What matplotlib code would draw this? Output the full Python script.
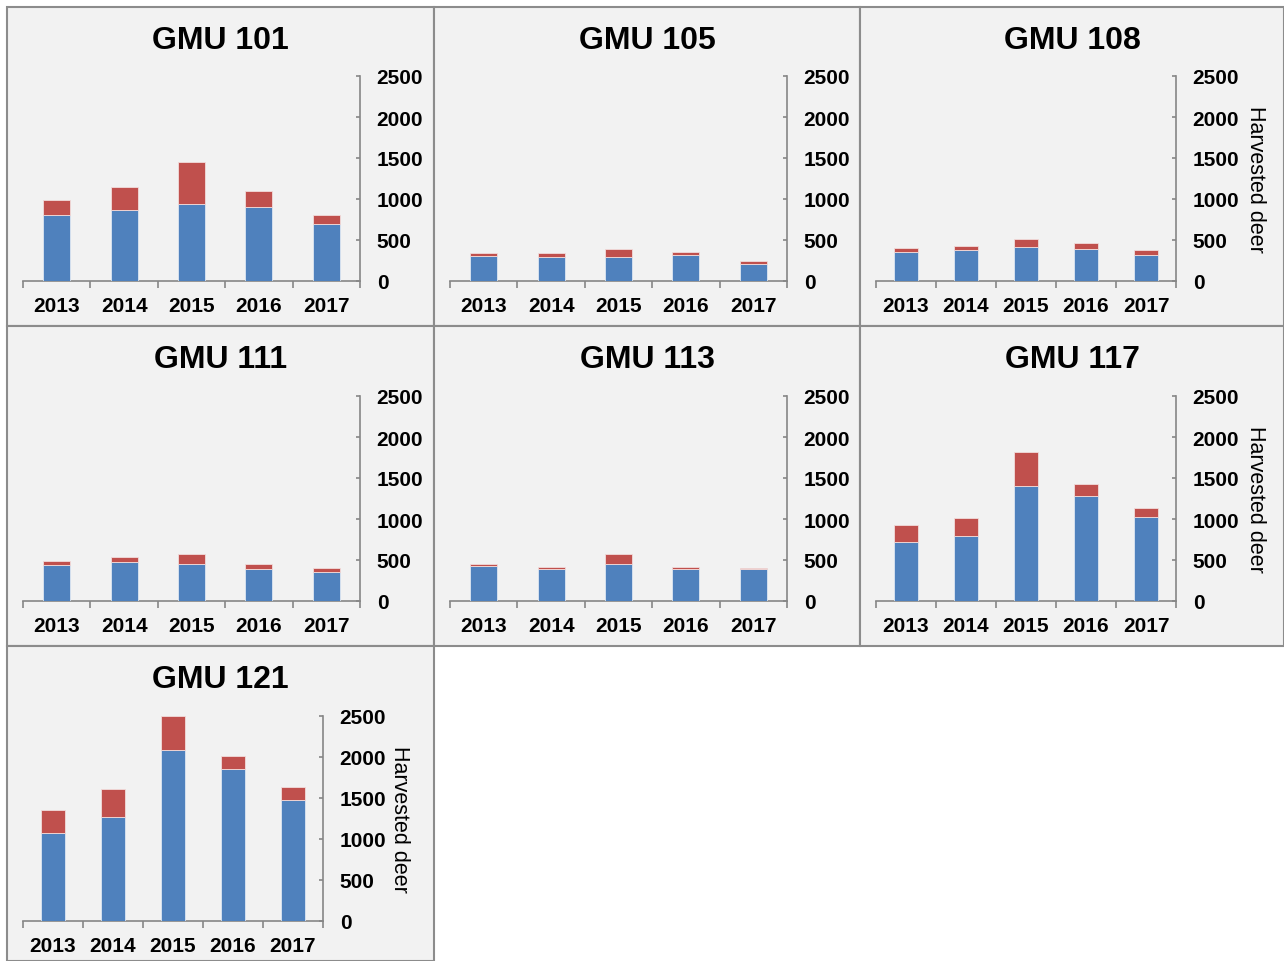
import matplotlib
matplotlib.use("Agg")
import matplotlib.pyplot as plt
from matplotlib.patches import Rectangle
import numpy as np

plt.rcParams['font.family'] = ['Liberation Sans', 'DejaVu Sans']

years = ["2013", "2014", "2015", "2016", "2017"]
titles = ["GMU 101", "GMU 105", "GMU 108", "GMU 111", "GMU 113", "GMU 117", "GMU 121"]

# lower (blue) component
blue_101 = [805, 870, 939, 906, 695]
blue_105 = [305, 289, 297, 317, 211]
blue_108 = [350, 374, 411, 394, 321]
blue_111 = [439, 472, 451, 394, 350]
blue_113 = [423, 386, 447, 394, 386]
blue_117 = [720, 789, 1407, 1276, 1024]
blue_121 = [1075, 1274, 2089, 1857, 1474]

# stacked totals (blue + red)
total_101 = [984, 1150, 1451, 1093, 801]
total_105 = [341, 341, 394, 354, 248]
total_108 = [402, 423, 516, 459, 374]
total_111 = [488, 541, 577, 447, 402]
total_113 = [447, 419, 577, 419, 407]
total_117 = [923, 1008, 1813, 1431, 1130]
total_121 = [1352, 1604, 2500, 2011, 1637]

blues = [blue_101, blue_105, blue_108, blue_111, blue_113, blue_117, blue_121]
totals = [total_101, total_105, total_108, total_111, total_113, total_117, total_121]
ylabel_text = "Harvested deer"
yticks = [0, 500, 1000, 1500, 2000, 2500]

W, H = 1284, 962
fig = plt.figure(figsize=(W / 100, H / 100), dpi=100)
fig.patch.set_facecolor("white")

BLUE = "#4f81bd"
RED = "#c0504d"
GRID = "#868686"

# panel frames (pixel coords: x0, x1, ytop, ybottom)
panels = [
    (7, 434, 8, 327), (434, 860, 8, 327), (860, 1284, 8, 327),
    (7, 434, 327, 647), (434, 860, 327, 647), (860, 1284, 327, 647),
    (7, 434, 647, 962),
]
# plot areas (pixel coords: x_left, x_right, y_zero, y_top)
plots = [
    (23, 360, 282, 77), (450, 787, 282, 77), (876, 1176, 282, 77),
    (23, 360, 602, 397), (450, 787, 602, 397), (876, 1176, 602, 397),
    (23, 323, 922, 717),
]
has_label = [False, False, True, False, False, True, True]

for (x0, x1, yt, yb) in panels:
    fig.patches.append(Rectangle((x0 / W, 1 - yb / H), (x1 - x0) / W, (yb - yt) / H,
                                 transform=fig.transFigure, facecolor="#f2f2f2",
                                 edgecolor="#8c8c8c", linewidth=1.5, zorder=-5))

for i in range(7):
    xl, xr, y0, y1 = plots[i]
    ax = fig.add_axes([xl / W, 1 - y0 / H, (xr - xl) / W, (y0 - y1) / H], zorder=2)
    ax.set_facecolor("none")
    x = np.arange(len(years))
    b = np.array(blues[i])
    t = np.array(totals[i])
    ax.bar(x, b, width=0.4, color=BLUE, edgecolor="#dce6f2", linewidth=0.6, zorder=3)
    ax.bar(x, t - b, bottom=b, width=0.4, color=RED, edgecolor="#f2dcdb", linewidth=0.6, zorder=3)
    ax.set_xlim(-0.5, len(years) - 0.5)
    ax.set_ylim(0, 2500)
    for s in ["top", "left"]:
        ax.spines[s].set_visible(False)
    for s in ["bottom", "right"]:
        ax.spines[s].set_color(GRID)
        ax.spines[s].set_linewidth(1.2)
    ax.yaxis.tick_right()
    ax.set_yticks(yticks)
    ax.set_yticklabels([str(v) for v in yticks], fontsize=15, fontweight="bold")
    ax.tick_params(axis="y", direction="in", length=3, width=1.2, color=GRID, pad=12)
    ax.set_xticks(x)
    ax.set_xticklabels(years, fontsize=15, fontweight="bold")
    ax.set_xticks(np.arange(len(years) + 1) - 0.5, minor=True)
    ax.tick_params(axis="x", which="major", length=0, pad=10.5)
    ax.tick_params(axis="x", which="minor", direction="out", length=5, width=1.2, color=GRID)
    x0p, x1p, ytp, ybp = panels[i]
    fig.text(((x0p + x1p) / 2) / W, 1 - (ytp + 33) / H, titles[i], ha="center", va="center",
             fontsize=23, fontweight="bold")
    if has_label[i]:
        lx = 1255 if i != 6 else 400
        fig.text(lx / W, 1 - ((y0 + y1) / 2) / H, ylabel_text, rotation=270,
                 ha="center", va="center", fontsize=15.5)

fig.savefig("out.png", dpi=100, facecolor="white")
